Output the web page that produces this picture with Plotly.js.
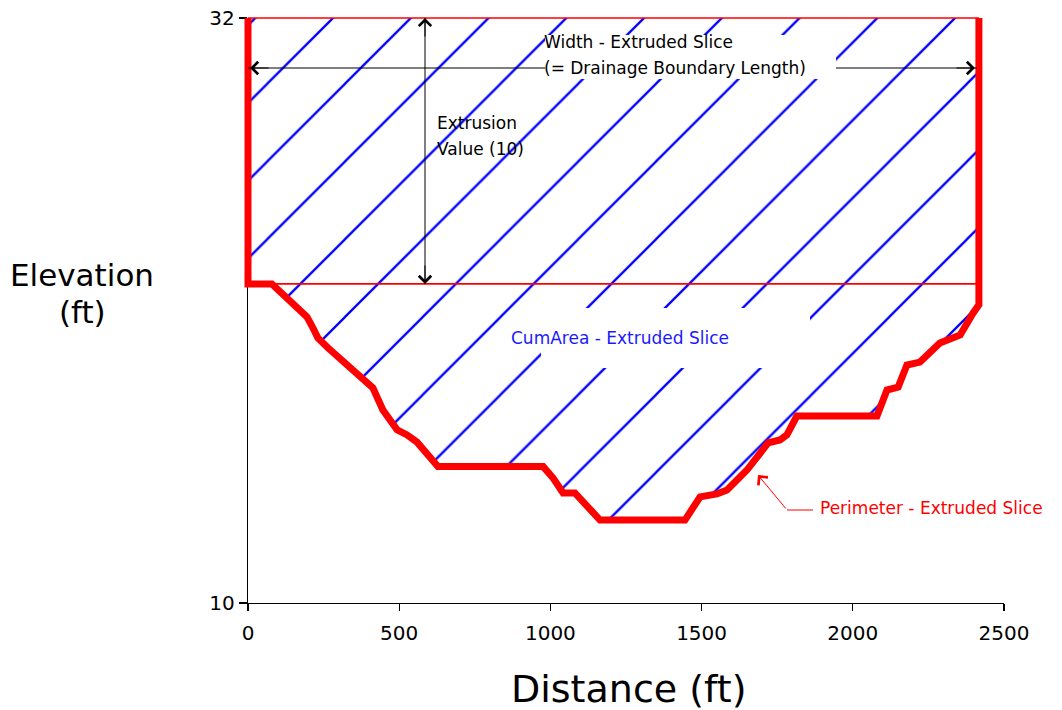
<!DOCTYPE html>
<html>
<head>
<meta charset="utf-8">
<script src="https://cdn.plot.ly/plotly-3.0.1.min.js"></script>
<style>
html,body{margin:0;padding:0;background:#ffffff;}
#chart{width:1062px;height:710px;}
</style>
</head>
<body>
<div id="chart"></div>
<script>
// ---------------- data ----------------
const sliceTopElevation = 32;     // ft
const extrusionValue = 10;        // ft
const distance = [0, 79, 139, 195, 215, 231, 265, 387, 413, 446, 493, 526, 559, 628, 976, 1009, 1042, 1081, 1164, 1445,
                  1495, 1551, 1584, 1650, 1720, 1759, 1782, 1815, 2080, 2113, 2150, 2179, 2222, 2288, 2355, 2398, 2417];
const elevation = [22, 22, 21.4, 20.76, 20.34, 19.97, 19.59, 18.31, 18.09, 17.26, 16.51, 16.32, 16.05, 15.13, 15.13, 14.7, 14.14, 14.14, 13.12, 13.12,
                   13.99, 14.1, 14.25, 15.0, 16.02, 16.13, 16.32, 17.03, 17.03, 18.01, 18.12, 18.95, 19.06, 19.78, 20.08, 20.91, 21.21];
const xTickVals = [0, 500, 1000, 1500, 2000, 2500];
const xTickText = ['0', '500', '1000', '1500', '2000', '2500'];
const yTickVals = [10, 32];
const yTickText = ['10', '32'];
const xRange = [0, 2500];
const yRange = [10, 32];
const labelWidth = ['Width - Extruded Slice', '(= Drainage Boundary Length)'];
const labelExtrusion = ['Extrusion', 'Value (10)'];
const labelCumArea = 'CumArea - Extruded Slice';
const labelPerimeter = 'Perimeter - Extruded Slice';
const titleY = ['Elevation', '(ft)'];
const titleX = 'Distance (ft)';

// ---------------- geometry / layout constants ----------------
const W = 1062, H = 710;
const plotL = 248, plotR = 1004, plotT = 18, plotB = 603;
const mL = 180, mR = W - plotR, mT = 6, mB = H - plotB;
const paperW = W - mL - mR, paperH = H - mT - mB;
const pxPerX = (plotR - plotL) / (xRange[1] - xRange[0]);
const pxPerY = (plotB - plotT) / (yRange[1] - yRange[0]);
const px2x = px => xRange[0] + (px - plotL) / pxPerX;
const px2y = py => yRange[1] - (py - plotT) / pxPerY;
const px2paperX = px => (px - mL) / paperW;
const px2paperY = py => 1 - (py - mT) / paperH;

// hatch pattern phase: pattern anchored at the hatch subplot origin
const hatchSpacing = 77.75;          // horizontal px between hatch lines
const hatchCrossPx = 333;            // px where one hatch line meets the top line
const hatchTopPad = plotT - mT;      // 12 px
const hatchLeftPx = hatchCrossPx + hatchTopPad - 2 * hatchSpacing;

const FONT = 'DejaVu Sans, Verdana, sans-serif';
const BLUE = '#0000ff', RED = '#ff0000';

const sliceBase = sliceTopElevation - extrusionValue;
const sliceWidth = distance[distance.length - 1];

const outlineX = [distance[0]].concat(distance, [sliceWidth]);
const outlineY = [sliceTopElevation].concat(elevation, [sliceTopElevation]);
const hatchX = outlineX.concat([distance[0]]);
const hatchY = outlineY.concat([sliceTopElevation]);

const hatchSize = hatchSpacing / Math.SQRT2;

const traces = [
  { // hatched CumArea region
    x: hatchX, y: hatchY, xaxis: 'x2', yaxis: 'y2', type: 'scatter', mode: 'lines',
    line: {width: 0, color: 'rgba(0,0,0,0)'}, fill: 'toself', fillcolor: 'rgba(0,0,0,0)',
    fillpattern: {shape: '/', size: hatchSize, solidity: 2.3 / hatchSize, fgcolor: BLUE, bgcolor: 'rgba(0,0,0,0)', fgopacity: 1, fillmode: 'overlay'},
    hoverinfo: 'skip', showlegend: false
  },
  { // top of slice
    x: [distance[0], sliceWidth], y: [sliceTopElevation, sliceTopElevation], xaxis: 'x2', yaxis: 'y2',
    type: 'scatter', mode: 'lines', line: {color: RED, width: 1.6}, hoverinfo: 'skip', showlegend: false
  },
  { // base of extrusion
    x: [distance[0], sliceWidth], y: [sliceBase, sliceBase], xaxis: 'x2', yaxis: 'y2',
    type: 'scatter', mode: 'lines', line: {color: RED, width: 1.6}, hoverinfo: 'skip', showlegend: false
  },
  { // perimeter
    x: outlineX, y: outlineY, xaxis: 'x2', yaxis: 'y2', type: 'scatter', mode: 'lines',
    line: {color: RED, width: 7}, hoverinfo: 'skip', showlegend: false
  }
];

const textAnn = (txt, px, py, color, size) => ({
  text: txt, x: px2x(px), y: px2y(py), xref: 'x', yref: 'y', showarrow: false,
  xanchor: 'left', yanchor: 'middle', font: {family: FONT, size: size, color: color}
});
const titleAnn = (txt, px, py, size) => ({
  text: txt, x: px2paperX(px), y: px2paperY(py), xref: 'paper', yref: 'paper', showarrow: false,
  xanchor: 'center', yanchor: 'middle', font: {family: FONT, size: size, color: '#000000'}
});
const headAnn = (tx, ty, ax, ay, color) => ({
  x: tx, y: ty, xref: 'x', yref: 'y', ax: ax, ay: ay, axref: 'pixel', ayref: 'pixel',
  showarrow: true, arrowhead: 4, arrowsize: 2.4, arrowwidth: 1, arrowcolor: color, text: ''
});

const widthArrowY = px2y(68);
const extrusionArrowX = px2x(425);

const annotations = [
  textAnn(labelWidth[0], 542, 42, '#000000', 17),
  textAnn(labelWidth[1], 542, 68, '#000000', 17),
  textAnn(labelExtrusion[0], 435, 123, '#000000', 17),
  textAnn(labelExtrusion[1], 435, 149, '#000000', 17),
  textAnn(labelCumArea, 509, 338, '#1a1aff', 17),
  textAnn(labelPerimeter, 818, 508, RED, 17),
  titleAnn(titleY[0], 82, 275, 31),
  titleAnn(titleY[1], 82, 312, 31),
  titleAnn(titleX, 629, 689, 38),
  // arrow heads
  headAnn(px2x(250), widthArrowY, 20, 0, '#000000'),
  headAnn(px2x(975), widthArrowY, -20, 0, '#000000'),
  headAnn(extrusionArrowX, sliceTopElevation, 0, 20, '#000000'),
  headAnn(extrusionArrowX, sliceBase, 0, -20, '#000000'),
  {x: px2x(758), y: px2y(475), xref: 'x', yref: 'y', ax: px2x(787), ay: px2y(510), axref: 'x', ayref: 'y',
   showarrow: true, arrowhead: 4, arrowsize: 2.4, arrowwidth: 1, arrowcolor: RED, text: ''}
];

const shapes = [
  {type: 'line', xref: 'x', yref: 'y', x0: 0, x1: px2x(977), y0: widthArrowY, y1: widthArrowY, line: {color: '#000000', width: 1}, layer: 'above'},
  {type: 'line', xref: 'x', yref: 'y', x0: extrusionArrowX, x1: extrusionArrowX, y0: sliceTopElevation, y1: sliceBase, line: {color: '#000000', width: 1}, layer: 'above'},
  // white label boxes that break the hatch
  {type: 'rect', xref: 'x', yref: 'y', x0: px2x(545), x1: px2x(836), y0: px2y(35), y1: px2y(79), line: {width: 0}, fillcolor: '#ffffff', layer: 'above'},
  {type: 'rect', xref: 'x', yref: 'y', x0: px2x(541), x1: px2x(810), y0: px2y(308), y1: px2y(368), line: {width: 0}, fillcolor: '#ffffff', layer: 'above'},
  // perimeter leader
  {type: 'line', xref: 'x', yref: 'y', x0: px2x(787), x1: px2x(813), y0: px2y(510), y1: px2y(510), line: {color: RED, width: 1}, layer: 'above'}
];

const tickFont = {family: FONT, size: 20, color: '#000000'};

const layout = {
  width: W, height: H,
  margin: {l: mL, r: mR, t: mT, b: mB, pad: 0},
  paper_bgcolor: '#ffffff', plot_bgcolor: 'rgba(0,0,0,0)',
  showlegend: false,
  xaxis: {
    domain: [(plotL - mL) / paperW, 1], range: xRange, anchor: 'y',
    showline: true, linecolor: '#000000', linewidth: 1.2, showgrid: false, zeroline: false,
    ticks: 'outside', ticklen: 7, tickwidth: 1.2, tickcolor: '#000000',
    tickvals: xTickVals, ticktext: xTickText, tickfont: tickFont, ticklabelstandoff: 5, fixedrange: true
  },
  xaxis3: {
    overlaying: 'x', range: xRange, anchor: 'y',
    showline: false, showgrid: false, zeroline: false,
    ticks: 'inside', ticklen: 7, tickwidth: 1.2, tickcolor: '#000000',
    tickvals: xTickVals, showticklabels: false, fixedrange: true
  },
  yaxis: {
    domain: [0, (plotB - plotT) / paperH], range: yRange, anchor: 'x',
    showline: true, linecolor: '#000000', linewidth: 1.2, showgrid: false, zeroline: false,
    ticks: 'outside', ticklen: 8, tickwidth: 1.2, tickcolor: '#000000',
    tickvals: yTickVals, ticktext: yTickText, tickfont: tickFont, fixedrange: true
  },
  xaxis2: {
    domain: [(hatchLeftPx - mL) / paperW, 1],
    range: [xRange[0] - (plotL - hatchLeftPx) / pxPerX, xRange[1]],
    anchor: 'y2', visible: false, fixedrange: true
  },
  yaxis2: {
    domain: [0, 1], range: [yRange[0], yRange[1] + hatchTopPad / pxPerY],
    anchor: 'x2', visible: false, fixedrange: true
  },
  annotations: annotations,
  shapes: shapes
};

Plotly.newPlot('chart', traces, layout, {displayModeBar: false, staticPlot: true});
</script>
</body>
</html>
